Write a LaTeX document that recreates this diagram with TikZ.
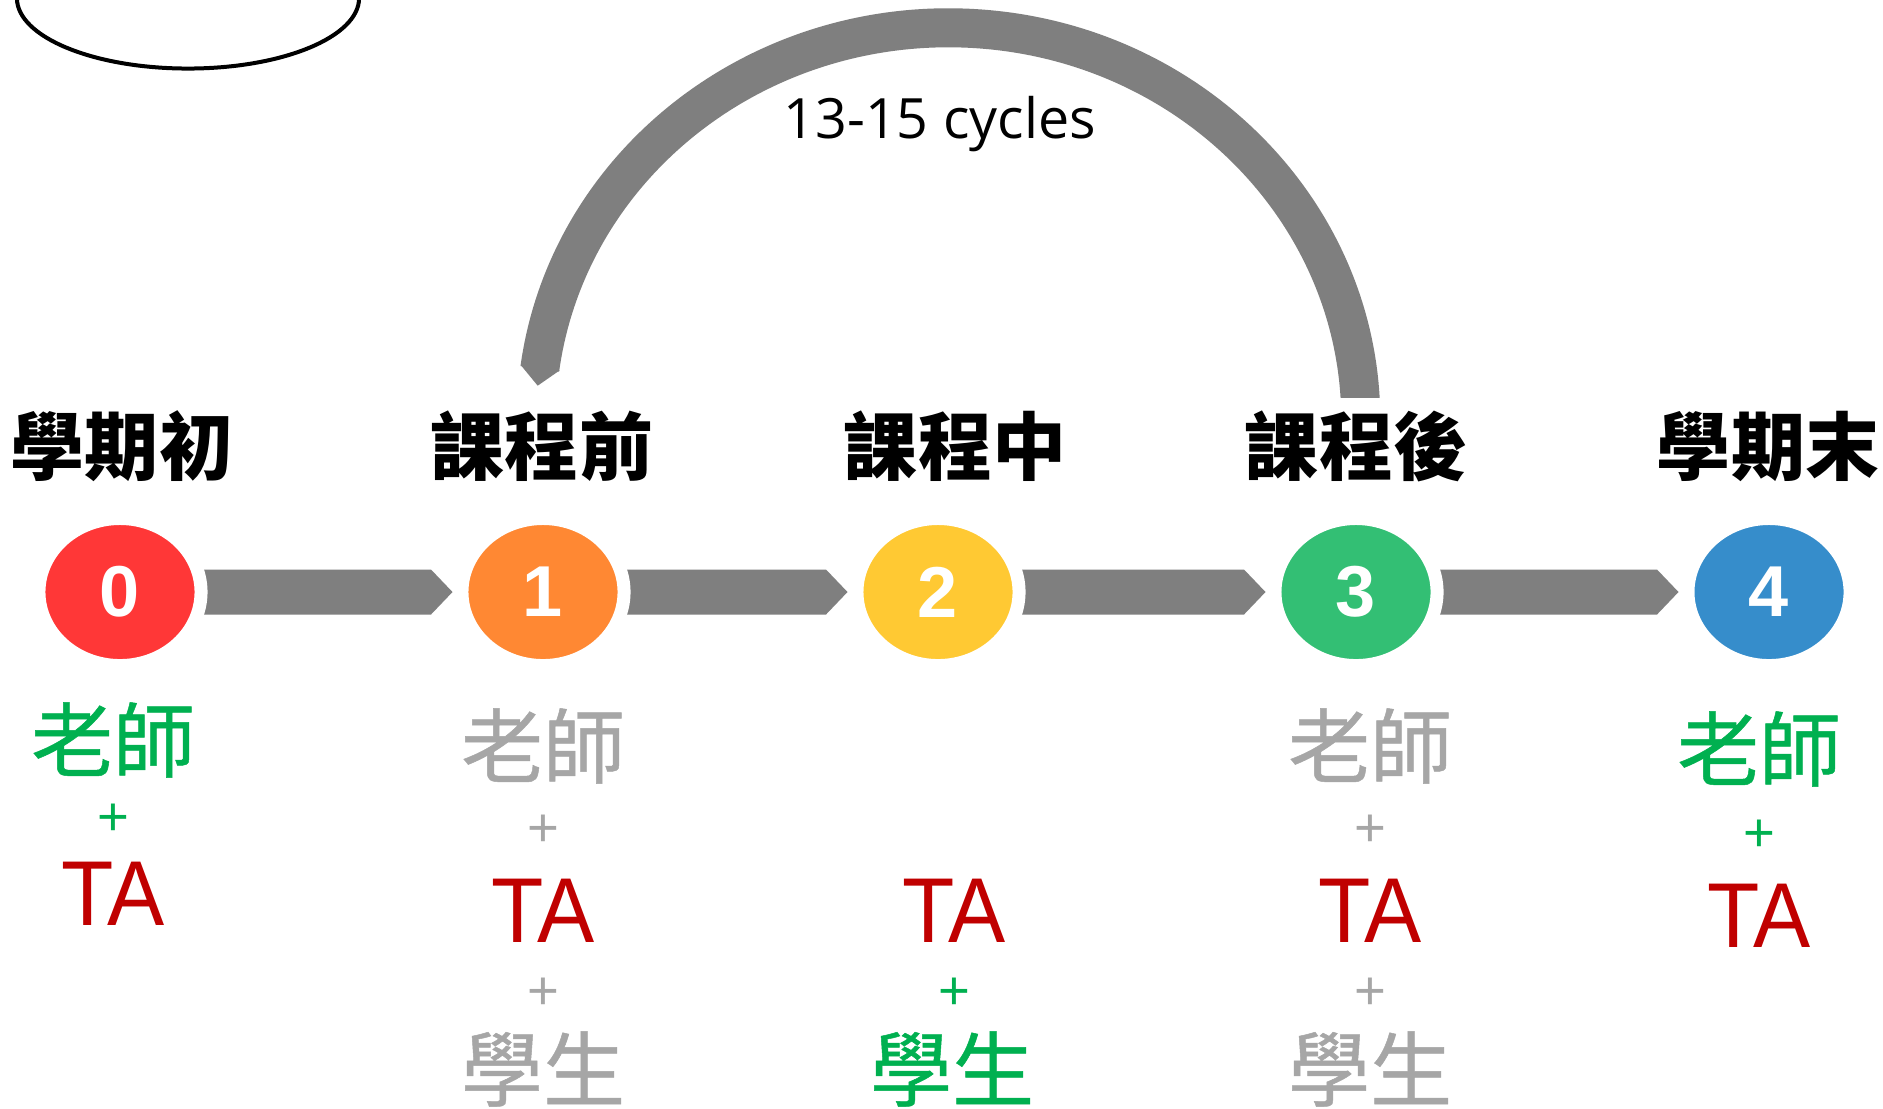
\documentclass[tikz,border=0pt]{standalone}
\usepackage{fontspec}
\setmainfont{Liberation Sans}
\newfontfamily\cjk{Noto Sans CJK TC}
\newfontfamily\cjkrole[FakeBold=0.6]{Noto Sans CJK TC}
\newfontfamily\cycfont{Open Sans}
\newfontfamily\tafont[FakeStretch=0.93]{Liberation Sans}
\usetikzlibrary{calc,shapes.geometric}
\definecolor{cRed}{HTML}{FF3737}
\definecolor{cOrange}{HTML}{FF8833}
\definecolor{cYellow}{HTML}{FFC933}
\definecolor{cGreen}{HTML}{33BF74}
\definecolor{cBlue}{HTML}{368DCB}
\definecolor{bandGray}{HTML}{7F7F7F}
\definecolor{txtGreen}{HTML}{00B050}
\definecolor{txtGray}{HTML}{A6A6A6}
\definecolor{taRed}{HTML}{C00000}
\begin{document}
\begin{tikzpicture}[x=0.01cm,y=-0.01cm,
  stage/.style={ellipse, draw=white, line width=0.13cm, minimum width=1.62cm,
    minimum height=1.47cm, inner sep=0pt, text=white,
    font=\bfseries\fontsize{20.5pt}{24pt}\selectfont},
  phase/.style={inner sep=0pt, text=black, font=\cjk\bfseries\fontsize{21.05pt}{25pt}\selectfont},
  role/.style={inner sep=0pt, font=\cjkrole\fontsize{23.3pt}{28pt}\selectfont},
  ta/.style={inner sep=0pt, text=taRed, font=\tafont\fontsize{26.2pt}{30pt}\selectfont},
  plus/.style={inner sep=0pt, font=\fontsize{15.5pt}{18pt}\selectfont},
  band/.style={fill=bandGray, draw=none},
  bandline/.style={draw=bandGray, line width=0.39cm}]
\useasboundingbox (0,0) rectangle (1883,1108);
\clip (0,0) rectangle (1883,1108);
\fill[white] (0,0) rectangle (1883,1108);

% top-left ellipse
\draw[line width=0.04cm] (188,-2) ellipse [x radius=1.71cm, y radius=0.705cm];

% stage positions
\coordinate (p0) at (120,592);
\coordinate (p1) at (543,592);
\coordinate (p2) at (938,592);
\coordinate (p3) at (1356,592);
\coordinate (p4) at (1769,592);

% connectors (drawn under the stages)
\foreach \a/\b in {p0/p1,p1/p2,p2/p3,p3/p4}{
  \fill[band] ($(\a)+(0,-22.5)$) -- ($(\b)+(-112,-22.5)$) -- ($(\b)+(-90.5,0)$)
    -- ($(\b)+(-112,22.5)$) -- ($(\a)+(0,22.5)$) -- cycle;
}

% stages
\node[stage, fill=cRed]    (s0) at (p0) {0};
\node[stage, fill=cOrange] (s1) at (p1) {1};
\node[stage, fill=cYellow] (s2) at (p2) {2};
\node[stage, fill=cGreen]  (s3) at (p3) {3};
\node[stage, fill=cBlue]   (s4) at (p4) {4};

% big loop arc (from stage 3 back to stage 1)
\coordinate (arcC) at (948.5,420);
\begin{scope}
  \clip (0,0) rectangle (1883,397);
  \draw[bandline] (arcC) ++(-2:4.12cm and 3.92cm)
    arc[start angle=-2, end angle=172.5, x radius=4.12cm, y radius=3.92cm];
  \fill[band] (559.49,370.51) -- (537.70,385.67) -- (520.85,365.17) -- cycle;
\end{scope}
\node[inner sep=0pt, font=\cycfont\fontsize{15.8pt}{19pt}\selectfont] (cyc) at (939.7,124.5) {13-15 cycles};

% phase labels
\node[phase] (l0) at (122,446) {學期初};
\node[phase] (l1) at (542,446) {課程前};
\node[phase] (l2) at (955,446) {課程中};
\node[phase] (l3) at (1356,446) {課程後};
\node[phase] (l4) at (1768,446) {學期末};

% column 0
\node[role, text=txtGreen] (t0) at (113,740) {老師};
\node[plus, text=txtGreen] (a0) at (113,820) {+};
\node[ta] (ta0) at (113,894) {TA};

% column 1
\node[role, text=txtGray] (t1) at (543,746) {老師};
\node[plus, text=txtGray] (a1) at (543,831) {+};
\node[ta] (ta1) at (543,911) {TA};
\node[plus, text=txtGray] (b1) at (543,994) {+};
\node[role, text=txtGray] (u1) at (543,1069) {學生};

% column 2
\node[ta] (ta2) at (954,911) {TA};
\node[plus, text=txtGreen] (b2) at (954,994) {+};
\node[role, text=txtGreen] (u2) at (952,1069) {學生};

% column 3
\node[role, text=txtGray] (t3) at (1370,746) {老師};
\node[plus, text=txtGray] (a3) at (1370,831) {+};
\node[ta] (ta3) at (1370,911) {TA};
\node[plus, text=txtGray] (b3) at (1370,994) {+};
\node[role, text=txtGray] (u3) at (1370,1069) {學生};

% column 4
\node[role, text=txtGreen] (t4) at (1759,749) {老師};
\node[plus, text=txtGreen] (a4) at (1759,836) {+};
\node[ta] (ta4) at (1759,916) {TA};
\end{tikzpicture}
\end{document}
